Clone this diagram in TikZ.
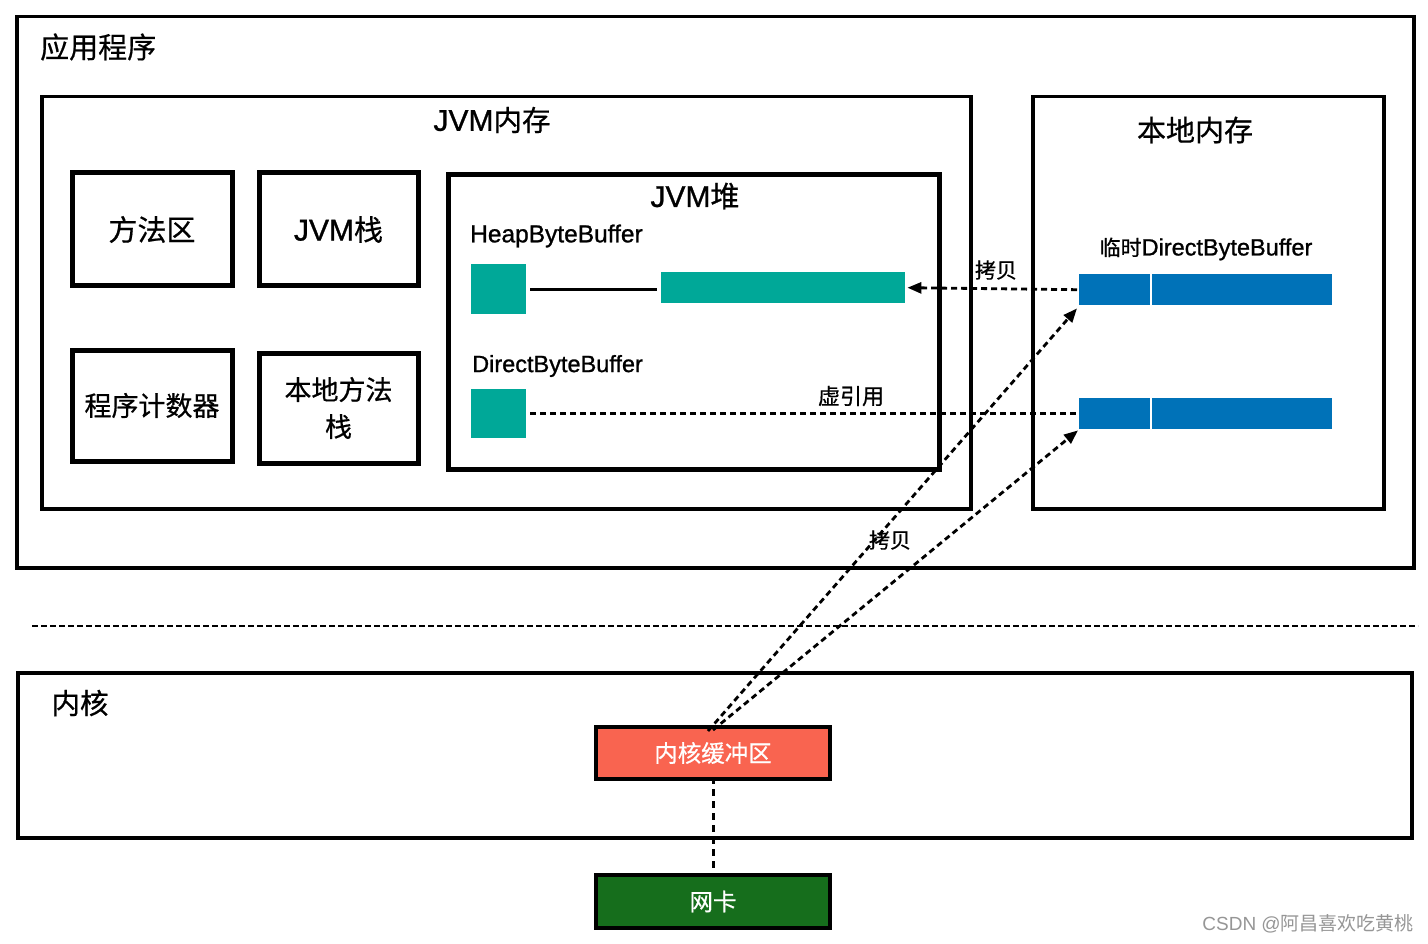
\documentclass[tikz,border=0pt]{standalone}
\usepackage{fontspec}
\setmainfont{Noto Sans CJK SC}[FakeBold=0.6]
\newfontfamily\lat{Liberation Sans}[FakeBold=1.0]
\newfontfamily\latr{Liberation Sans}
\newfontfamily\cjkr{Noto Sans CJK SC}
\usetikzlibrary{arrows.meta}
\definecolor{tealc}{RGB}{0,168,152}
\definecolor{bluec}{RGB}{0,114,184}
\definecolor{redc}{RGB}{249,100,80}
\definecolor{greenc}{RGB}{22,110,28}
\definecolor{wmc}{RGB}{150,150,150}
\tikzset{
  bigbox/.style={draw=black, line width=3.5pt, inner sep=0pt},
  smallbox/.style={draw=black, line width=5pt, inner sep=0pt, align=center},
  fillbar/.style={inner sep=0pt, draw=none},
  dashline/.style={line width=2.8pt, dash pattern=on 6pt off 4pt},
  arr/.style={-{Triangle[length=14pt,width=11pt]}},
  lbl/.style={inner sep=0pt, text=black},
}
\begin{document}
\begin{tikzpicture}[x=1pt,y=-1pt]
\useasboundingbox[fill=white] (0,0) rectangle (1428,944);

% outer boxes
\node[bigbox, minimum width=1397pt, minimum height=551pt, anchor=north west] (app) at (15,15) {};
\node[lbl, anchor=west, font=\fontsize{29}{31}\selectfont] (applbl) at (40,47) {应用程序};

\node[bigbox, minimum width=929pt, minimum height=412pt, anchor=north west] (jvm) at (40,95) {};
\node[lbl, font=\fontsize{28.5}{31}\selectfont] (jvmlbl) at (492,120) {{\lat\fontsize{30}{31}\selectfont JVM}内存};

\node[bigbox, minimum width=351pt, minimum height=412pt, anchor=north west] (native) at (1031,95) {};
\node[lbl, font=\fontsize{29}{31}\selectfont] (nativelbl) at (1195,130) {本地内存};

% small boxes
\node[smallbox, minimum width=160pt, minimum height=113pt, font=\fontsize{29}{31}\selectfont] (method) at (152,229.5) {方法区};
\node[smallbox, minimum width=159pt, minimum height=113pt, font=\fontsize{29}{31}\selectfont] (stack) at (338.5,229.5) {{\lat\fontsize{30}{31}\selectfont JVM}栈};
\node[smallbox, minimum width=160pt, minimum height=111pt, font=\fontsize{27}{29}\selectfont] (pc) at (152,405.5) {程序计数器};
\node[smallbox, minimum width=159pt, minimum height=110pt, font=\fontsize{27}{37}\selectfont] (nstack) at (338.5,408) {本地方法\\栈};

% heap
\node[smallbox, minimum width=491pt, minimum height=295pt, anchor=north west] (heap) at (446,172) {};
\node[lbl, font=\fontsize{29}{31}\selectfont] (heaplbl) at (695,196) {{\lat\fontsize{30}{31}\selectfont JVM}堆};
\node[lbl, anchor=west, font=\lat\fontsize{24.5}{26}\selectfont] (hbblbl) at (470,236) {HeapByteBuffer};
\node[fillbar, fill=tealc, minimum width=55pt, minimum height=50pt, anchor=north west] (hsq) at (471,264) {};
\node[fillbar, fill=tealc, minimum width=244pt, minimum height=31pt, anchor=north west] (hbar) at (661,272) {};
\draw[line width=3pt] ([xshift=4pt]hsq.east) -- ([xshift=-4pt]hbar.west |- hsq.east);

\node[lbl, anchor=west, font=\lat\fontsize{23.5}{25}\selectfont] (dbblbl) at (472,366) {DirectByteBuffer};
\node[fillbar, fill=tealc, minimum width=55pt, minimum height=49pt, anchor=north west] (dsq) at (471,389) {};

% native buffers
\node[lbl, font=\fontsize{21}{24}\selectfont] (tmplbl) at (1206,249) {临时{\lat\fontsize{23.5}{25}\selectfont DirectByteBuffer}};
\node[fillbar, fill=bluec, minimum width=253pt, minimum height=31pt, anchor=north west] (tmp1) at (1079,274) {};
\node[fillbar, fill=bluec, minimum width=253pt, minimum height=31pt, anchor=north west] (tmp2) at (1079,398) {};
\draw[white, line width=1.5pt] ([xshift=72pt]tmp1.north west) -- ([xshift=72pt]tmp1.south west);
\draw[white, line width=1.5pt] ([xshift=72pt]tmp2.north west) -- ([xshift=72pt]tmp2.south west);

% phantom reference
\draw[dashline] ([xshift=4pt]dsq.east) -- ([xshift=-2pt]tmp2.west);
\node[lbl, font=\fontsize{22}{24}\selectfont] (phlbl) at (851,396) {虚引用};

% copy to heap
\draw[dashline, arr] ([xshift=-2pt]tmp1.west) -- ([xshift=2pt]hbar.east);
\node[lbl, font=\fontsize{21}{23}\selectfont] (copy1) at (996,270) {拷贝};

% separator
\coordinate (sepL) at (32,626);
\coordinate (sepR) at (1418,626);
\draw[line width=1.8pt, dash pattern=on 6pt off 3pt] (sepL) -- (sepR);

% kernel
\node[bigbox, minimum width=1394pt, minimum height=165pt, anchor=north west] (kernel) at (16,671) {};
\node[lbl, font=\fontsize{28.5}{31}\selectfont] (kernellbl) at (80,703) {内核};

\node[draw=black, line width=4pt, fill=redc, minimum width=234pt, minimum height=52pt, text=white, font=\fontsize{23.5}{25}\selectfont, inner sep=0pt] (kbuf) at (713,753) {内核缓冲区};
\node[draw=black, line width=4pt, fill=greenc, minimum width=234pt, minimum height=53pt, text=white, font=\fontsize{23.5}{25}\selectfont, inner sep=0pt] (nic) at (713,901.5) {网卡};

\draw[line width=3pt, dash pattern=on 7pt off 5pt] ([yshift=4pt]kbuf.south) -- ([yshift=-2pt]nic.north);

% copies from kernel buffer
\draw[dashline, arr] ([xshift=-5pt,yshift=-6pt]kbuf.north) -- ([xshift=-2pt,yshift=-3pt]tmp1.south west);
\draw[dashline, arr] ([yshift=-5pt]kbuf.north) -- ([xshift=-1pt,yshift=-1pt]tmp2.south west);
\node[lbl, font=\fontsize{21}{23}\selectfont] (copy2) at (890,540) {拷贝};

% watermark
\node[lbl, anchor=east, text=wmc, font=\cjkr\fontsize{19}{21}\selectfont] (wm) at (1414,924) {{\latr CSDN @}阿昌喜欢吃黄桃};
\end{tikzpicture}
\end{document}
